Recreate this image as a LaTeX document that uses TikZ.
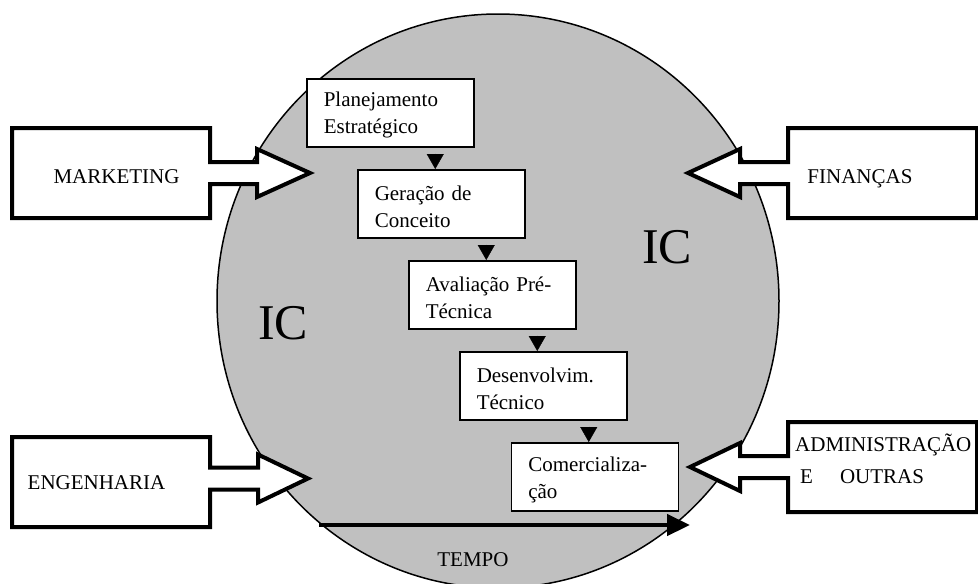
\documentclass[tikz,border=0pt]{standalone}
\usepackage{fontspec}
\setmainfont{Liberation Serif}
\usetikzlibrary{arrows.meta, positioning}
\definecolor{icgray}{RGB}{192,192,192}

% outer x, inner x, head x, tip x, box y, arrow y
\newcommand{\bigarrow}[6]{%
  \draw[bigarrow] (#2,{#5-45}) -- (#1,{#5-45}) -- (#1,{#5+45}) -- (#2,{#5+45})
    -- (#2,{#6+11}) -- (#3,{#6+11}) -- (#3,{#6+24}) -- (#4,#6)
    -- (#3,{#6-24}) -- (#3,{#6-11}) -- (#2,{#6-11}) -- cycle;
}

\begin{document}
\begin{tikzpicture}[x=1pt, y=-1pt,
  bigarrow/.style={draw, fill=white, line width=4pt, line join=miter},
  labeltext/.style={inner sep=0pt, font=\fontsize{21}{27}\selectfont},
  ictext/.style={inner sep=0pt, font=\fontsize{50}{60}\selectfont},
  stage/.style={draw, fill=white, line width=1.5pt, anchor=north west,
    minimum height=68pt, text width=133pt, inner xsep=17pt, inner ysep=0pt,
    align=left, font=\fontsize{21}{27}\selectfont,
    execute at begin node={\rule{0pt}{20pt}}},
  flowtip/.style={-{Triangle[length=15pt,width=17pt]}, shorten <=6pt}]

\useasboundingbox (0,0) rectangle (978,584);
\clip (0,0) rectangle (978,584);

\draw[fill=icgray, line width=1.5pt] (498,301) ellipse [x radius=281, y radius=287];

\bigarrow{12}{210}{257}{310}{173}{173}
\bigarrow{12}{210}{258}{308}{482}{478.5}
\bigarrow{977}{788}{740}{688}{173}{173}
\bigarrow{977}{788}{740}{690}{467}{467}

\node[labeltext, anchor=base] (mkt) at (116.5,183) {MARKETING};
\node[labeltext, anchor=base] (eng) at (96.5,489) {ENGENHARIA};
\node[labeltext, anchor=base] (fin) at (860,183) {FINANÇAS};
\node[labeltext, anchor=base west] (adm) at (795,451) {ADMINISTRAÇÃO};
\node[labeltext, anchor=base west] (outras) at (800,483) {E\hspace{27pt}OUTRAS};

\node[ictext, anchor=base] (icl) at (283,339) {IC};
\node[ictext, anchor=base] (icr) at (667,263) {IC};

\node[stage] (plan) at (306,78) {Planejamento\\Estratégico};
\node[stage] (ger) at ([shift={(51,21.5)}]plan.south west) {Geração de\\Conceito};
\node[stage] (aval) at ([shift={(51,21.5)}]ger.south west) {Avaliação Pré-\\Técnica};
\node[stage] (desenv) at ([shift={(51,21.5)}]aval.south west) {Desenvolvim.\\Técnico};
\node[stage] (com) at ([shift={(51.5,21.5)}]desenv.south west) {Comercializa-\\ção};

\foreach \a/\b in {plan/ger, ger/aval, aval/desenv, desenv/com}
  \draw[flowtip] ([xshift=-6pt]\b.north |- \a.south) -- ([xshift=-6pt]\b.north);

\coordinate (t0) at (319,525);
\coordinate (t1) at (690,525);
\draw[line width=4.5pt, -{Triangle[length=23pt,width=21pt]}] (t0) -- (t1);
\node[labeltext, anchor=base] (tempo) at (473,566) {TEMPO};

\end{tikzpicture}
\end{document}
